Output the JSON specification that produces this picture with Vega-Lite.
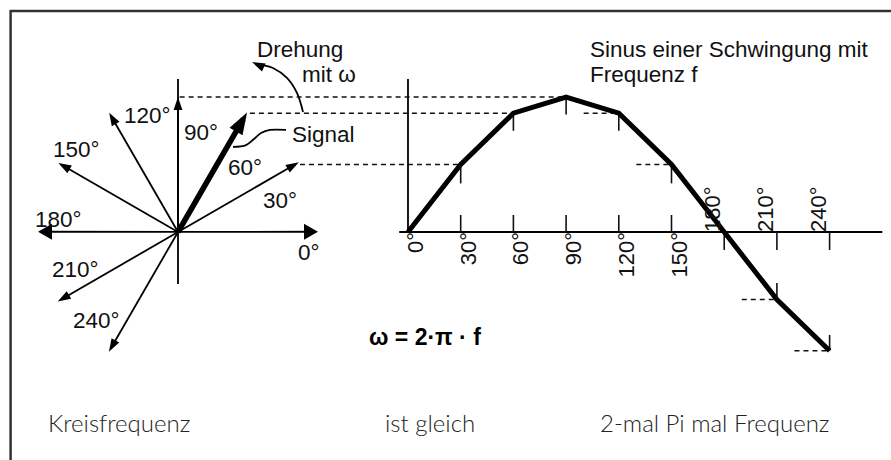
{
  "$schema": "https://vega.github.io/schema/vega-lite/v6.json",
  "width": 881,
  "height": 450,
  "autosize": {"type": "none"},
  "padding": {"left": 10, "top": 10, "right": 0, "bottom": 0},
  "background": "white",
  "config": {"view": {"stroke": null}},
  "datasets": {
    "frame": [
      {"ax": -1.2444, "ax2": 5.2815, "ay": 1.637, "ay2": 1.637},
      {"ax": -1.24, "ax2": -1.24, "ay": 1.6444, "ay2": -1.6889}
    ],
    "paxis": [
      {"ax": 0, "ax2": 0, "ay": 1.133, "ay2": -0.385}
    ],
    "hline": [
      {"i": 0, "ax": -0.99, "ay": 0.002},
      {"i": 1, "ax": 0, "ay": 0.001},
      {"i": 2, "ax": 0.99, "ay": 0.002}
    ],
    "hheads": [
      {"side": "right", "ax": 0.985, "ay": 0.002},
      {"side": "left", "ax": -0.985, "ay": 0.002}
    ],
    "phasors": [
      {"dir": 30, "ox": 0, "oy": 0, "ax": 0.866, "ay": 0.5},
      {"dir": 60, "ox": 0, "oy": 0, "ax": 0.483, "ay": 0.836},
      {"dir": 90, "ox": 0, "oy": 0, "ax": 0, "ay": 0.967},
      {"dir": 120, "ox": 0, "oy": 0, "ax": -0.493, "ay": 0.854},
      {"dir": 150, "ox": 0, "oy": 0, "ax": -0.857, "ay": 0.495},
      {"dir": 210, "ox": 0, "oy": 0, "ax": -0.862, "ay": -0.498},
      {"dir": 240, "ox": 0, "oy": 0, "ax": -0.495, "ay": -0.857}
    ],
    "heads": [
      {"dir": 30, "ax": 0.866, "ay": 0.5},
      {"dir": 60, "ax": 0.483, "ay": 0.836},
      {"dir": 90, "ax": 0, "ay": 0.967},
      {"dir": 120, "ax": -0.493, "ay": 0.854},
      {"dir": 150, "ax": -0.857, "ay": 0.495},
      {"dir": 210, "ax": -0.862, "ay": -0.498},
      {"dir": 240, "ax": -0.495, "ay": -0.857},
      {"dir": 155, "ax": 0.579, "ay": 1.245}
    ],
    "drehung": [
      {"i": 0, "ax": 0.926, "ay": 0.889},
      {"i": 1, "ax": 0.881, "ay": 1.03},
      {"i": 2, "ax": 0.807, "ay": 1.141},
      {"i": 3, "ax": 0.704, "ay": 1.215},
      {"i": 4, "ax": 0.622, "ay": 1.237},
      {"i": 5, "ax": 0.578, "ay": 1.244}
    ],
    "signal": [
      {"i": 0, "ax": 0.407, "ay": 0.63},
      {"i": 1, "ax": 0.504, "ay": 0.644},
      {"i": 2, "ax": 0.563, "ay": 0.689},
      {"i": 3, "ax": 0.615, "ay": 0.733},
      {"i": 4, "ax": 0.681, "ay": 0.756},
      {"i": 5, "ax": 0.8, "ay": 0.756}
    ],
    "labels": [
      {"kind": "dia", "text": "Drehung", "ax": 0.585, "ay": 1.296},
      {"kind": "dia", "text": "mit ω", "ax": 0.919, "ay": 1.111},
      {"kind": "dia", "text": "Signal", "ax": 0.844, "ay": 0.667},
      {"kind": "dia", "text": "120°", "ax": -0.4, "ay": 0.807},
      {"kind": "dia", "text": "90°", "ax": 0.044, "ay": 0.681},
      {"kind": "dia", "text": "150°", "ax": -0.926, "ay": 0.556},
      {"kind": "dia", "text": "60°", "ax": 0.37, "ay": 0.422},
      {"kind": "dia", "text": "30°", "ax": 0.63, "ay": 0.178},
      {"kind": "dia", "text": "180°", "ax": -1.059, "ay": 0.037},
      {"kind": "dia", "text": "0°", "ax": 0.889, "ay": -0.207},
      {"kind": "dia", "text": "210°", "ax": -0.933, "ay": -0.333},
      {"kind": "dia", "text": "240°", "ax": -0.778, "ay": -0.711},
      {"kind": "dia", "text": "Sinus einer Schwingung mit", "ax": 3.052, "ay": 1.296},
      {"kind": "dia", "text": "Frequenz f", "ax": 3.052, "ay": 1.111},
      {"kind": "formula", "text": "ω = 2·π · f", "ax": 1.415, "ay": -0.837},
      {"kind": "caption", "text": "Kreisfrequenz", "ax": -0.963, "ay": -1.481},
      {"kind": "caption", "text": "ist gleich", "ax": 1.533, "ay": -1.481},
      {"kind": "caption", "text": "2-mal Pi mal Frequenz", "ax": 3.126, "ay": -1.481}
    ],
    "saxes": [
      {"deg": 0, "deg2": 0, "ay": 1.133, "ay2": 0},
      {"deg": -5, "deg2": 270, "ay": 0, "ay2": 0}
    ],
    "ticks": [
      {"deg": 30, "ay": 0.5, "ay2": 0.36},
      {"deg": 60, "ay": 0.88, "ay2": 0.75},
      {"deg": 90, "ay": 1.0, "ay2": 0.87},
      {"deg": 120, "ay": 0.88, "ay2": 0.75},
      {"deg": 150, "ay": 0.5, "ay2": 0.36},
      {"deg": 210, "ay": -0.5, "ay2": -0.378},
      {"deg": 240, "ay": -0.88, "ay2": -0.763},
      {"deg": 30, "ay": 0.126, "ay2": 0},
      {"deg": 60, "ay": 0.126, "ay2": 0},
      {"deg": 90, "ay": 0.126, "ay2": 0},
      {"deg": 120, "ay": 0.126, "ay2": 0},
      {"deg": 150, "ay": 0.126, "ay2": 0},
      {"deg": 180, "ay": 0, "ay2": -0.133},
      {"deg": 210, "ay": 0, "ay2": -0.133},
      {"deg": 240, "ay": 0, "ay2": -0.133}
    ],
    "dashes": [
      {"deg": -130, "deg2": 90, "ay": 1.0},
      {"deg": -90, "deg2": 60, "ay": 0.88},
      {"deg": -61.5, "deg2": 30, "ay": 0.5},
      {"deg": 100, "deg2": 120, "ay": 0.88},
      {"deg": 130, "deg2": 150, "ay": 0.5},
      {"deg": 190, "deg2": 210, "ay": -0.5},
      {"deg": 220, "deg2": 240, "ay": -0.88}
    ],
    "sine": [
      {"deg": 0, "ay": 0},
      {"deg": 30, "ay": 0.5},
      {"deg": 60, "ay": 0.88},
      {"deg": 90, "ay": 1.0},
      {"deg": 120, "ay": 0.88},
      {"deg": 150, "ay": 0.5},
      {"deg": 180, "ay": 0},
      {"deg": 210, "ay": -0.5},
      {"deg": 240, "ay": -0.88}
    ],
    "tlabels": [
      {"deg": 0, "ay": 0, "text": "0°", "pos": "below"},
      {"deg": 30, "ay": 0, "text": "30°", "pos": "below"},
      {"deg": 60, "ay": 0, "text": "60°", "pos": "below"},
      {"deg": 90, "ay": 0, "text": "90°", "pos": "below"},
      {"deg": 120, "ay": 0, "text": "120°", "pos": "below"},
      {"deg": 150, "ay": 0, "text": "150°", "pos": "below"},
      {"deg": 180, "ay": 0, "text": "180°", "pos": "above"},
      {"deg": 210, "ay": 0, "text": "210°", "pos": "above"},
      {"deg": 240, "ay": 0, "text": "240°", "pos": "above"}
    ]
  },
  "resolve": {"scale": {"x": "independent"}},
  "layer": [
    {
      "layer": [
        {
          "data": {"name": "frame"},
          "mark": {"type": "rule", "color": "#333333", "strokeWidth": 2.5},
          "encoding": {
            "x": {"field": "ax", "type": "quantitative", "scale": {"domain": [-1.24444, 5.28148], "nice": false, "zero": false}, "axis": null},
            "x2": {"field": "ax2"},
            "y": {"field": "ay", "type": "quantitative", "scale": {"domain": [-1.68889, 1.64444], "nice": false, "zero": false}, "axis": null},
            "y2": {"field": "ay2"}
          }
        },
        {
          "data": {"name": "paxis"},
          "mark": {"type": "rule", "color": "#000000", "strokeWidth": 1.8},
          "encoding": {
            "x": {"field": "ax", "type": "quantitative", "scale": {"domain": [-1.24444, 5.28148], "nice": false, "zero": false}, "axis": null},
            "x2": {"field": "ax2"},
            "y": {"field": "ay", "type": "quantitative", "scale": {"domain": [-1.68889, 1.64444], "nice": false, "zero": false}, "axis": null},
            "y2": {"field": "ay2"}
          }
        },
        {
          "data": {"name": "hline"},
          "mark": {"type": "line", "color": "#000000", "strokeWidth": 1.8},
          "encoding": {
            "x": {"field": "ax", "type": "quantitative", "scale": {"domain": [-1.24444, 5.28148], "nice": false, "zero": false}, "axis": null},
            "y": {"field": "ay", "type": "quantitative", "scale": {"domain": [-1.68889, 1.64444], "nice": false, "zero": false}, "axis": null},
            "order": {"field": "i", "type": "quantitative"}
          }
        },
        {
          "data": {"name": "hheads"},
          "mark": {"type": "point", "filled": true, "color": "#000000", "opacity": 1, "strokeWidth": 0, "size": 260},
          "encoding": {
            "x": {"field": "ax", "type": "quantitative", "scale": {"domain": [-1.24444, 5.28148], "nice": false, "zero": false}, "axis": null},
            "y": {"field": "ay", "type": "quantitative", "scale": {"domain": [-1.68889, 1.64444], "nice": false, "zero": false}, "axis": null},
            "shape": {"field": "side", "type": "nominal", "scale": {"domain": ["right", "left"], "range": ["triangle-right", "triangle-left"]}, "legend": null}
          }
        },
        {
          "data": {"name": "phasors"},
          "mark": {"type": "rule", "color": "#000000", "strokeCap": "butt"},
          "encoding": {
            "x": {"field": "ox", "type": "quantitative", "scale": {"domain": [-1.24444, 5.28148], "nice": false, "zero": false}, "axis": null},
            "x2": {"field": "ax"},
            "y": {"field": "oy", "type": "quantitative", "scale": {"domain": [-1.68889, 1.64444], "nice": false, "zero": false}, "axis": null},
            "y2": {"field": "ay"},
            "strokeWidth": {"condition": {"test": "datum.dir === 60", "value": 5.5}, "value": 1.8}
          }
        },
        {
          "data": {"name": "drehung"},
          "mark": {"type": "line", "color": "#000000", "strokeWidth": 1.8, "interpolate": "catmull-rom"},
          "encoding": {
            "x": {"field": "ax", "type": "quantitative", "scale": {"domain": [-1.24444, 5.28148], "nice": false, "zero": false}, "axis": null},
            "y": {"field": "ay", "type": "quantitative", "scale": {"domain": [-1.68889, 1.64444], "nice": false, "zero": false}, "axis": null},
            "order": {"field": "i", "type": "quantitative"}
          }
        },
        {
          "data": {"name": "signal"},
          "mark": {"type": "line", "color": "#000000", "strokeWidth": 1.8, "interpolate": "catmull-rom"},
          "encoding": {
            "x": {"field": "ax", "type": "quantitative", "scale": {"domain": [-1.24444, 5.28148], "nice": false, "zero": false}, "axis": null},
            "y": {"field": "ay", "type": "quantitative", "scale": {"domain": [-1.68889, 1.64444], "nice": false, "zero": false}, "axis": null},
            "order": {"field": "i", "type": "quantitative"}
          }
        },
        {
          "data": {"name": "heads"},
          "mark": {"type": "point", "shape": "M0,-0.35L-0.34,0.65L0.34,0.65Z", "filled": true, "color": "#000000", "opacity": 1, "strokeWidth": 0},
          "encoding": {
            "x": {"field": "ax", "type": "quantitative", "scale": {"domain": [-1.24444, 5.28148], "nice": false, "zero": false}, "axis": null},
            "y": {"field": "ay", "type": "quantitative", "scale": {"domain": [-1.68889, 1.64444], "nice": false, "zero": false}, "axis": null},
            "angle": {"field": "dir", "type": "quantitative", "scale": {"domain": [0, 360], "range": [90, -270], "zero": false, "nice": false}, "legend": null},
            "size": {"condition": {"test": "datum.dir === 60", "value": 1936}, "value": 676}
          }
        },
        {
          "data": {"name": "labels"},
          "transform": [{"filter": "datum.kind === 'dia'"}],
          "mark": {"type": "text", "align": "left", "baseline": "alphabetic", "font": "Liberation Sans", "fontSize": 22.5, "color": "#111111"},
          "encoding": {
            "x": {"field": "ax", "type": "quantitative", "scale": {"domain": [-1.24444, 5.28148], "nice": false, "zero": false}, "axis": null},
            "y": {"field": "ay", "type": "quantitative", "scale": {"domain": [-1.68889, 1.64444], "nice": false, "zero": false}, "axis": null},
            "text": {"field": "text"}
          }
        },
        {
          "data": {"name": "labels"},
          "transform": [{"filter": "datum.kind === 'formula'"}],
          "mark": {"type": "text", "align": "left", "baseline": "alphabetic", "font": "Liberation Sans", "fontSize": 23, "fontWeight": "bold", "color": "#000000"},
          "encoding": {
            "x": {"field": "ax", "type": "quantitative", "scale": {"domain": [-1.24444, 5.28148], "nice": false, "zero": false}, "axis": null},
            "y": {"field": "ay", "type": "quantitative", "scale": {"domain": [-1.68889, 1.64444], "nice": false, "zero": false}, "axis": null},
            "text": {"field": "text"}
          }
        },
        {
          "data": {"name": "labels"},
          "transform": [{"filter": "datum.kind === 'caption'"}],
          "mark": {"type": "text", "align": "left", "baseline": "alphabetic", "font": "Lato", "fontWeight": 300, "fontSize": 24, "color": "#222222"},
          "encoding": {
            "x": {"field": "ax", "type": "quantitative", "scale": {"domain": [-1.24444, 5.28148], "nice": false, "zero": false}, "axis": null},
            "y": {"field": "ay", "type": "quantitative", "scale": {"domain": [-1.68889, 1.64444], "nice": false, "zero": false}, "axis": null},
            "text": {"field": "text"}
          }
        }
      ]
    },
    {
      "layer": [
        {
          "data": {"name": "saxes"},
          "mark": {"type": "rule", "color": "#000000", "strokeWidth": 1.8},
          "encoding": {
            "x": {"field": "deg", "type": "quantitative", "scale": {"domain": [-226.56, 274.95], "nice": false, "zero": false}, "axis": null},
            "x2": {"field": "deg2"},
            "y": {"field": "ay", "type": "quantitative", "scale": {"domain": [-1.68889, 1.64444], "nice": false, "zero": false}, "axis": null},
            "y2": {"field": "ay2"}
          }
        },
        {
          "data": {"name": "ticks"},
          "mark": {"type": "rule", "color": "#111111", "strokeWidth": 1.6},
          "encoding": {
            "x": {"field": "deg", "type": "quantitative", "scale": {"domain": [-226.56, 274.95], "nice": false, "zero": false}, "axis": null},
            "y": {"field": "ay", "type": "quantitative", "scale": {"domain": [-1.68889, 1.64444], "nice": false, "zero": false}, "axis": null},
            "y2": {"field": "ay2"}
          }
        },
        {
          "data": {"name": "dashes"},
          "mark": {"type": "rule", "color": "#111111", "strokeWidth": 1.4, "strokeDash": [5, 4]},
          "encoding": {
            "x": {"field": "deg", "type": "quantitative", "scale": {"domain": [-226.56, 274.95], "nice": false, "zero": false}, "axis": null},
            "x2": {"field": "deg2"},
            "y": {"field": "ay", "type": "quantitative", "scale": {"domain": [-1.68889, 1.64444], "nice": false, "zero": false}, "axis": null}
          }
        },
        {
          "data": {"name": "sine"},
          "mark": {"type": "line", "color": "#000000", "strokeWidth": 5, "strokeJoin": "miter"},
          "encoding": {
            "x": {"field": "deg", "type": "quantitative", "scale": {"domain": [-226.56, 274.95], "nice": false, "zero": false}, "axis": null},
            "y": {"field": "ay", "type": "quantitative", "scale": {"domain": [-1.68889, 1.64444], "nice": false, "zero": false}, "axis": null}
          }
        },
        {
          "data": {"name": "tlabels"},
          "transform": [{"filter": "datum.pos === 'below'"}],
          "mark": {"type": "text", "angle": 270, "align": "right", "baseline": "middle", "dy": 8, "font": "Liberation Sans", "fontSize": 22, "color": "#111111"},
          "encoding": {
            "x": {"field": "deg", "type": "quantitative", "scale": {"domain": [-226.56, 274.95], "nice": false, "zero": false}, "axis": null},
            "y": {"field": "ay", "type": "quantitative", "scale": {"domain": [-1.68889, 1.64444], "nice": false, "zero": false}, "axis": null},
            "text": {"field": "text"}
          }
        },
        {
          "data": {"name": "tlabels"},
          "transform": [{"filter": "datum.pos === 'above'"}],
          "mark": {"type": "text", "angle": 270, "align": "left", "baseline": "middle", "dy": -11, "font": "Liberation Sans", "fontSize": 22, "color": "#111111"},
          "encoding": {
            "x": {"field": "deg", "type": "quantitative", "scale": {"domain": [-226.56, 274.95], "nice": false, "zero": false}, "axis": null},
            "y": {"field": "ay", "type": "quantitative", "scale": {"domain": [-1.68889, 1.64444], "nice": false, "zero": false}, "axis": null},
            "text": {"field": "text"}
          }
        }
      ]
    }
  ]
}
